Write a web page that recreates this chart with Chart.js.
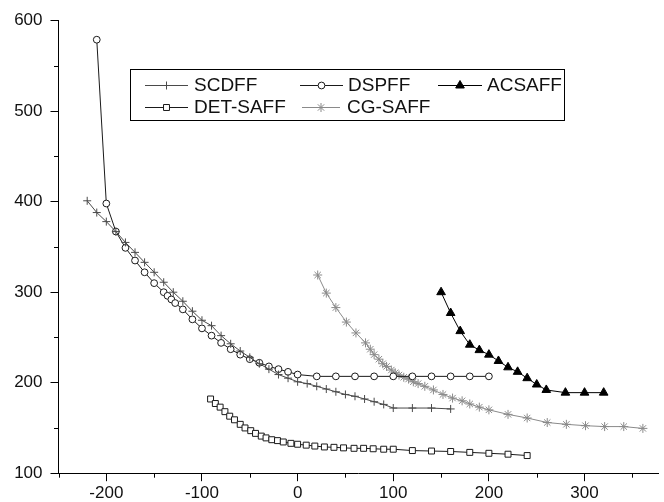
<!DOCTYPE html>
<html><head><meta charset="utf-8">
<script src="https://cdn.jsdelivr.net/npm/chart.js@4/dist/chart.umd.min.js"></script>
<style>html,body{margin:0;padding:0;background:#fff;overflow:hidden}canvas{display:block}</style>
</head><body>
<canvas id="c" width="664" height="502"></canvas>
<script>
// ---- data ----
const seriesNames = ['SCDFF', 'DSPFF', 'ACSAFF', 'DET-SAFF', 'CG-SAFF'];

const scdffX = [-220,-210,-200,-190,-180,-170,-160,-150,-140,-130,-120,-110,-100,-90,-80,-70,-60,-50,-40,-30,-20,-10,0,10,20,30,40,50,60,70,80,90,100,120,140,160];
const scdffY = [401,388,378,367,355,344,333,322,311,300,290,279,269,263,252,243,235,228,221,215,209,205,201,199,196,193,190,187,185,182,179,176,172,172,172,171];

const dspffX = [-210,-200,-190,-180,-170,-160,-150,-140,-136,-132,-128,-120,-110,-100,-90,-80,-70,-60,-50,-40,-30,-20,-10,0,20,40,60,80,100,120,140,160,180,200];
const dspffY = [579,398,367,349,335,322,310,300,296,292,288,281,270,260,252,244,237,231,226,222,218,215,212,209,207,207,207,207,207,207,207,207,207,207];

const acsaffX = [150,160,170,180,190,200,210,220,230,240,250,260,280,300,320];
const acsaffY = [300,277,257,242,236,231,224,217,212,205,198,192,189,189,189];

const detSaffX = [-91,-86,-81,-76,-71,-66,-60,-55,-49,-44,-38,-33,-27,-21,-15,-7,0,9,18,28,38,48,59,69,79,90,100,120,140,160,180,200,220,240];
const detSaffY = [182,177,173,168,163,159,154,150,147,144,141,139,137,136,134.5,133,132,131,130,129,128.6,128,127.5,127.5,127,126.5,126.5,125,124.5,124,123,122,121,119.5];

const cgSaffX = [21,30,40,51,61,71,76,80,85,89,93,98,102,106,111,116,121,126,133,142,152,162,172,180,190,200,220,240,261,281,301,321,341,361];
const cgSaffY = [319,299,283,267,255,244,237,231,226,221,218,214,211,208.5,206,204,201,199,196,192,187,183,180,176.5,173,170,165,161,156,154,152.5,151.5,151.5,149.5];

const xTickLabels = [-200,-100,0,100,200,300];
const xMinorTicks = [-250,-150,-50,50,150,250,350];
const yTickLabels = [100,200,300,400,500,600];
const yMinorTicks = [150,250,350,450,550];

// ---- build ----
function pts(xs, ys){ return xs.map((x,i)=>({x:x, y:ys[i]})); }

const styles = [
  {color:'#4a4a4a', point:'cross',    r:4,   bg:'#4a4a4a'},
  {color:'#1a1a1a', point:'circle',   r:3.4, bg:'#ffffff'},
  {color:'#000000', point:'triangle', r:5,   bg:'#000000'},
  {color:'#1a1a1a', point:'rect',     r:4.2, bg:'#ffffff'},
  {color:'#8a8a8a', point:'star',     r:4.5, bg:'#8a8a8a'}
];
const seriesData = [pts(scdffX,scdffY), pts(dspffX,dspffY), pts(acsaffX,acsaffY), pts(detSaffX,detSaffY), pts(cgSaffX,cgSaffY)];

const datasets = seriesNames.map((n,i)=>({
  label:n, data:seriesData[i], showLine:true,
  borderColor:styles[i].color, borderWidth:1,
  pointStyle:styles[i].point, pointRadius:styles[i].r,
  pointBackgroundColor:styles[i].bg, pointBorderColor:styles[i].color, pointBorderWidth:1,
  clip:false, tension:0
}));

const FONT = '"Liberation Sans", Arial, sans-serif';

function drawMarker(ctx, style, r, x, y, stroke, fill){
  ctx.save();
  ctx.strokeStyle = stroke; ctx.fillStyle = fill; ctx.lineWidth = 1;
  ctx.beginPath();
  if (style === 'circle'){ ctx.arc(x,y,r,0,Math.PI*2); ctx.fill(); ctx.stroke(); }
  else if (style === 'rect'){ const s = r*Math.SQRT1_2; ctx.rect(x-s,y-s,2*s,2*s); ctx.fill(); ctx.stroke(); }
  else if (style === 'triangle'){
    let a = 0;
    ctx.moveTo(x+Math.sin(a)*r, y-Math.cos(a)*r); a += 2*Math.PI/3;
    ctx.lineTo(x+Math.sin(a)*r, y-Math.cos(a)*r); a += 2*Math.PI/3;
    ctx.lineTo(x+Math.sin(a)*r, y-Math.cos(a)*r); ctx.closePath(); ctx.fill(); ctx.stroke();
  }
  else if (style === 'cross'){ ctx.moveTo(x,y-r); ctx.lineTo(x,y+r); ctx.moveTo(x-r,y); ctx.lineTo(x+r,y); ctx.stroke(); }
  else if (style === 'star'){
    ctx.moveTo(x,y-r); ctx.lineTo(x,y+r); ctx.moveTo(x-r,y); ctx.lineTo(x+r,y);
    const d = r*Math.SQRT1_2;
    ctx.moveTo(x-d,y-d); ctx.lineTo(x+d,y+d); ctx.moveTo(x-d,y+d); ctx.lineTo(x+d,y-d); ctx.stroke();
  }
  ctx.restore();
}

const legendLayout = [
  {line:[145,188], tx:194, y:85},
  {line:[300,343], tx:348, y:85},
  {line:[438,482], tx:487, y:85},
  {line:[145,188], tx:194, y:107},
  {line:[302,340], tx:347, y:107}
];

const extras = {
  id:'extras',
  afterDraw(chart){
    const ctx = chart.ctx, xs = chart.scales.x, ys = chart.scales.y;
    const a = chart.chartArea;
    ctx.save();
    ctx.strokeStyle = '#000'; ctx.lineWidth = 1;
    ctx.beginPath();
    xMinorTicks.forEach(v=>{ const p = Math.round(xs.getPixelForValue(v))+0.5; ctx.moveTo(p, a.bottom); ctx.lineTo(p, a.bottom+4.5); });
    yMinorTicks.forEach(v=>{ const p = Math.round(ys.getPixelForValue(v))+0.5; ctx.moveTo(a.left-4.5, p); ctx.lineTo(a.left, p); });
    ctx.stroke();
    // legend
    ctx.strokeStyle = '#000';
    ctx.strokeRect(130.5, 69.5, 434, 51);
    ctx.font = '19px ' + FONT; ctx.textBaseline = 'middle'; ctx.fillStyle = '#111';
    chart.data.datasets.forEach((ds,i)=>{
      const L = legendLayout[i], st = styles[i];
      ctx.beginPath(); ctx.strokeStyle = st.color; ctx.lineWidth = 1;
      ctx.moveTo(L.line[0], L.y+0.5); ctx.lineTo(L.line[1], L.y+0.5); ctx.stroke();
      drawMarker(ctx, st.point, st.r, (L.line[0]+L.line[1])/2, L.y+0.5, st.color, st.bg);
      ctx.fillStyle = '#111';
      ctx.fillText(ds.label, L.tx, L.y+1);
    });
    ctx.restore();
  }
};

new Chart(document.getElementById('c'), {
  type:'scatter',
  data:{datasets:datasets},
  options:{
    responsive:false, animation:false, devicePixelRatio:1,
    layout:{padding:{top:20.7, left:0, right:0, bottom:0}},
    plugins:{legend:{display:false}, tooltip:{enabled:false}},
    scales:{
      x:{
        type:'linear', min:-250, max:376.8,
        afterBuildTicks(s){ s.ticks = xTickLabels.map(v=>({value:v})); },
        afterFit(s){ s.height = 28.8; },
        grid:{display:true, drawOnChartArea:false, drawTicks:true, tickLength:8, tickColor:'#000', tickWidth:1},
        border:{display:true, color:'#000', width:1},
        ticks:{autoSkip:false, maxRotation:0, padding:2, color:'#111', font:{family:FONT, size:17}, callback:v=>String(v)}
      },
      y:{
        type:'linear', min:100, max:600,
        afterBuildTicks(s){ s.ticks = yTickLabels.map(v=>({value:v})); },
        afterFit(s){ s.width = 58.5; },
        grid:{display:true, drawOnChartArea:false, drawTicks:true, tickLength:8, tickColor:'#000', tickWidth:1},
        border:{display:true, color:'#000', width:1},
        ticks:{autoSkip:false, padding:8, color:'#111', font:{family:FONT, size:17}, callback:v=>String(v)}
      }
    }
  },
  plugins:[extras]
});
</script>
</body></html>
